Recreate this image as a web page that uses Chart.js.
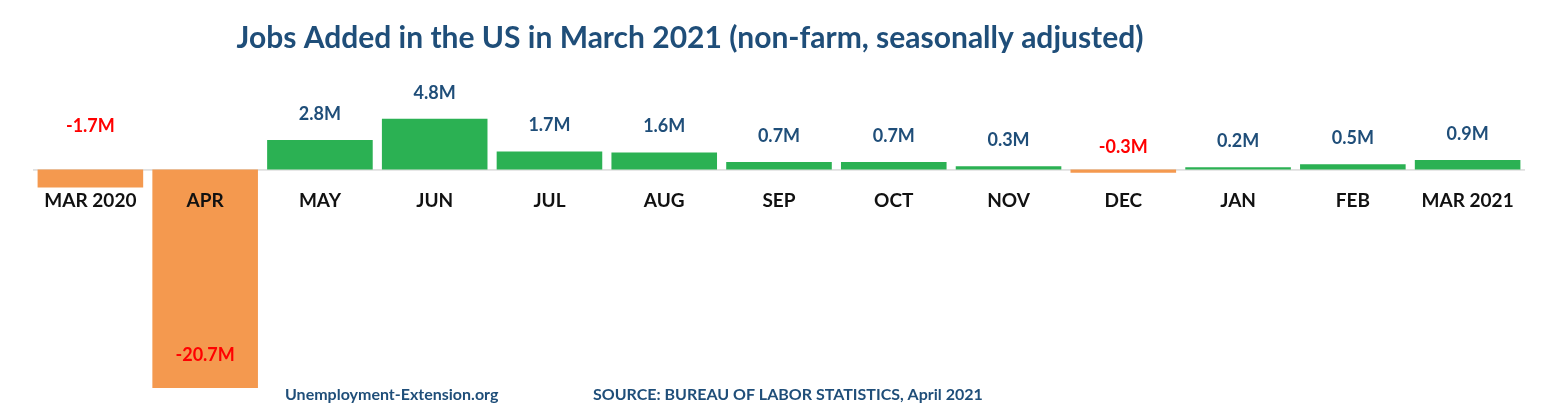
<!DOCTYPE html>
<html><head><meta charset="utf-8">
<script src="https://cdn.jsdelivr.net/npm/chart.js@4"></script>
<style>html,body{margin:0;padding:0;background:#fff}#w{width:1546px;height:418px}</style>
</head><body><div id="w"><canvas id="c"></canvas></div>
<script>
const categories = ["MAR 2020","APR","MAY","JUN","JUL","AUG","SEP","OCT","NOV","DEC","JAN","FEB","MAR 2021"];
const jobsMillions = [-1.7,-20.7,2.8,4.8,1.7,1.6,0.7,0.7,0.3,-0.3,0.2,0.5,0.9];
const valueLabels = ["-1.7M","-20.7M","2.8M","4.8M","1.7M","1.6M","0.7M","0.7M","0.3M","-0.3M","0.2M","0.5M","0.9M"];
const titleText = "Jobs Added in the US in March 2021 (non-farm, seasonally adjusted)";
const footLeft = "Unemployment-Extension.org";
const footRight = "SOURCE: BUREAU OF LABOR STATISTICS, April 2021";

const BLUE = "#1F4E79";
const deco = {
  id: "deco",
  beforeDatasetsDraw(ch) {
    const {ctx, scales:{x,y}} = ch;
    const y0 = y.getPixelForValue(0);
    ctx.save();
    ctx.strokeStyle = "#c8c8c8"; ctx.lineWidth = 1;
    ctx.beginPath(); ctx.moveTo(ch.chartArea.left, y0+0.5); ctx.lineTo(ch.chartArea.right, y0+0.5); ctx.stroke();
    ctx.restore();
  },
  afterDatasetsDraw(ch) {
    const {ctx, scales:{x,y}} = ch;
    const y0 = y.getPixelForValue(0);
    ctx.save();
    ctx.textAlign = "center"; ctx.textBaseline = "middle";
    ctx.fillStyle = BLUE;
    ctx.font = "bold 30px Lato";
    ctx.fillText(titleText, 690, 38);
    ctx.font = "bold 19px Lato";
    ctx.fillStyle = "#111";
    categories.forEach((c,i)=>{
      const px = x.getPixelForValue(i);
      ctx.fillText(c, px, 201);
    });
    ctx.font = "bold 18px Lato";
    jobsMillions.forEach((v,i)=>{
      const px = x.getPixelForValue(i);
      let py;
      if (v >= 0) { ctx.fillStyle = BLUE; py = y.getPixelForValue(v) - 26; }
      else {
        ctx.fillStyle = "#FF0000";
        if (v < -10) py = y.getPixelForValue(v) - 33;
        else if (v < -1) py = y0 - 43;
        else py = y0 - 22;
      }
      ctx.fillText(valueLabels[i], px, py);
    });
    ctx.font = "bold 16px Lato";
    ctx.fillStyle = BLUE;
    ctx.textAlign = "left";
    ctx.fillText(footLeft, 285, 395);
    ctx.fillText(footRight, 593, 395);
    ctx.restore();
  }
};

new Chart(document.getElementById("c"), {
  type: "bar",
  data: { labels: categories, datasets: [{
    data: jobsMillions,
    backgroundColor: jobsMillions.map(v => v >= 0 ? "#2BB153" : "#F4994F"),
    barPercentage: 0.92, categoryPercentage: 1.0
  }]},
  options: {
    responsive: true, maintainAspectRatio: false, animation: false,
    layout: { padding: { top: 66, bottom: 30, left: 33, right: 21 } },
    plugins: { legend: {display:false}, tooltip: {enabled:false} },
    scales: {
      x: { display: false },
      y: { display: false, min: -20.7, max: 9.8 }
    }
  },
  plugins: [deco]
});
</script></body></html>
